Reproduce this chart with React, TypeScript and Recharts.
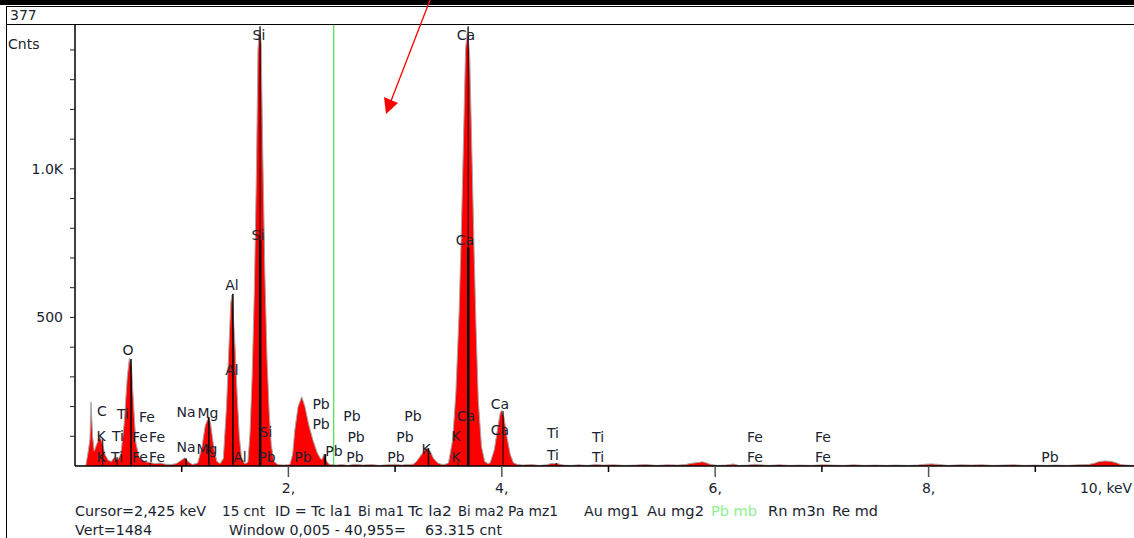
import React from "react";
import {
  ComposedChart,
  Area,
  XAxis,
  YAxis,
  ReferenceLine,
  ReferenceDot,
} from "recharts";

// spectrum: energy (keV) and counts
const energyKeV = [
  0.0, 0.1, 0.12, 0.14, 0.15, 0.165, 0.18, 0.2, 0.23, 0.25, 0.28, 0.31, 0.34, 0.37, 0.4, 0.43, 0.46, 0.49, 0.51, 0.53,
  0.55, 0.57, 0.6, 0.65, 0.7, 0.75, 0.8, 0.85, 0.9, 0.95, 1.0, 1.03, 1.06, 1.1, 1.15, 1.19, 1.22, 1.25, 1.27, 1.3,
  1.33, 1.36, 1.39, 1.42, 1.44, 1.46, 1.47, 1.48, 1.5, 1.52, 1.54, 1.56, 1.59, 1.62, 1.64, 1.66, 1.68, 1.7, 1.715, 1.73,
  1.745, 1.76, 1.78, 1.8, 1.82, 1.84, 1.865, 1.9, 1.95, 1.99, 2.015, 2.04, 2.06, 2.09, 2.125, 2.155, 2.19, 2.23, 2.27, 2.3,
  2.315, 2.33, 2.35, 2.38, 2.45, 2.5, 2.56, 2.62, 2.7, 2.78, 2.85, 2.92, 3.0, 3.06, 3.12, 3.17, 3.2, 3.24, 3.28, 3.3,
  3.33, 3.36, 3.4, 3.44, 3.47, 3.5, 3.54, 3.57, 3.6, 3.62, 3.64, 3.66, 3.68, 3.7, 3.72, 3.74, 3.76, 3.78, 3.81, 3.84,
  3.87, 3.89, 3.93, 3.96, 3.985, 4.0, 4.02, 4.05, 4.08, 4.11, 4.15, 4.2, 4.28, 4.35, 4.42, 4.47, 4.52, 4.58, 4.65, 4.72,
  4.8, 4.88, 4.95, 5.05, 5.15, 5.25, 5.35, 5.45, 5.55, 5.65, 5.72, 5.78, 5.84, 5.88, 5.92, 5.96, 6.02, 6.1, 6.17, 6.22,
  6.3, 6.37, 6.42, 6.5, 6.6, 6.7, 6.8, 6.9, 7.0, 7.1, 7.2, 7.3, 7.4, 7.5, 7.6, 7.7, 7.8, 7.9, 7.97, 8.03,
  8.1, 8.18, 8.3, 8.4, 8.5, 8.6, 8.7, 8.8, 8.9, 9.0, 9.1, 9.2, 9.3, 9.4, 9.5, 9.56, 9.6, 9.65, 9.7, 9.75,
  9.8, 9.85, 9.925,
];
const counts = [
  0, 0, 40, 90, 215, 100, 50, 70, 98, 85, 40, 20, 15, 30, 20, 40, 140, 300, 363, 330,
  200, 80, 30, 15, 12, 8, 10, 6, 5, 8, 20, 28, 15, 5, 10, 65, 135, 165, 145, 65,
  15, 8, 25, 200, 380, 550, 575, 530, 400, 240, 100, 30, 8, 12, 110, 300, 580, 980, 1400, 1477,
  1420, 1050, 640, 360, 180, 70, 15, 5, 3, 4, 6, 40, 121, 199, 233, 200, 140, 87, 45, 25,
  22, 38, 20, 6, 3, 5, 2, 6, 3, 5, 2, 4, 6, 3, 5, 6, 15, 35, 55, 60,
  50, 25, 10, 5, 6, 10, 90, 250, 520, 780, 1080, 1400, 1477, 1370, 1050, 730, 450, 220, 65, 15,
  8, 10, 55, 125, 178, 188, 165, 95, 38, 10, 5, 3, 5, 2, 4, 9, 8, 3, 2, 4,
  2, 5, 3, 4, 2, 3, 5, 2, 4, 3, 5, 9, 12, 14, 10, 5, 2, 3, 7, 2,
  3, 5, 4, 2, 4, 2, 3, 2, 4, 3, 2, 4, 2, 3, 2, 3, 2, 3, 6, 7,
  5, 2, 4, 3, 4, 2, 3, 4, 2, 3, 2, 3, 2, 4, 5, 10, 15, 17, 16, 12,
  5, 3, 2,
];

// KLM marker lines
const markerKeV = [1.735, 1.735, 3.685, 3.685, 1.48, 0.525, 1.254, 1.041, 2.345, 3.313, 3.59, 4.012, 4.51, 0.26, 0.395, 0.705];
const markerTop = [1480, 760, 1480, 735, 580, 360, 165, 25, 40, 60, 12, 185, 10, 90, 30, 10];
const markerWidth = [1, 2.5, 1, 2.5, 1.5, 1.5, 1.5, 1.5, 2, 1.5, 1, 1, 1, 1, 1, 1];

// element labels: text, keV, counts
const labelText = [
  "Si", "Ca", "Si", "Ca", "Al", "Al", "O",
  "C", "Ti", "Fe", "K", "Ti", "Fe", "Fe", "K", "Ti", "Fe", "Fe",
  "Na", "Mg", "Na", "Mg", "Al", "Si", "Pb",
  "Pb", "Pb", "Pb", "Pb", "Pb", "Pb", "Pb", "Pb", "Pb", "Pb",
  "K", "K", "K", "Ca", "Ca", "Ca",
  "Ti", "Ti", "Ti", "Ti", "Fe", "Fe", "Fe", "Fe", "Pb",
];
const labelKeV = [
  1.724, 3.664, 1.715, 3.655, 1.471, 1.471, 0.497,
  0.253, 0.45, 0.675, 0.244, 0.403, 0.609, 0.769, 0.244, 0.394, 0.609, 0.769,
  1.04, 1.246, 1.04, 1.237, 1.546, 1.79, 1.799,
  2.306, 2.306, 2.137, 2.427, 2.596, 2.634, 2.624, 3.168, 3.093, 3.008,
  3.29, 3.571, 3.571, 3.664, 3.983, 3.983,
  4.48, 4.48, 4.902, 4.902, 6.373, 6.373, 7.01, 7.01, 9.138,
];
const labelCounts = [
  1450, 1450, 777, 760, 609, 323, 390,
  185, 175, 165, 101, 101, 98, 98, 30, 30, 30, 30,
  182, 178, 64, 57, 30, 114, 30,
  209, 141, 30, 50, 168, 98, 30, 168, 98, 30,
  57, 101, 30, 168, 209, 121,
  111, 37, 98, 30, 98, 30, 98, 30, 30,
];

const xTicks = [1, 2, 3, 4, 5, 6, 7, 8, 9];
const xTickLabels: Record<number, string> = { 2: "2,", 4: "4,", 6: "6,", 8: "8,", 10: "10," };
const yTicks = [100, 200, 300, 400, 500, 600, 700, 800, 900, 1000, 1100, 1200, 1300, 1400];
const yTickLabels: Record<number, string> = { 500: "500", 1000: "1.0K" };

const FONT = "'DejaVu Sans', Verdana, sans-serif";
const INK = "#1a2330";

const data = energyKeV.map((e, i) => ({ e, c: counts[i] }));

function XTick(props: any) {
  const { x, y, payload } = props;
  const v = payload.value;
  const major = v % 2 === 0;
  return (
    <g>
      <line x1={x} x2={x} y1={y} y2={y + (major ? 11 : 6)} stroke={major ? "#555" : "#000"} strokeWidth={1.5} />
      {xTickLabels[v] && (
        <text x={x} y={y + 27} textAnchor="middle" fontSize={14} fontFamily={FONT} fill={INK}>
          {xTickLabels[v]}
        </text>
      )}
    </g>
  );
}

function YTick(props: any) {
  const { x, y, payload } = props;
  const v = payload.value;
  return (
    <g>
      <line x1={x - 5} x2={x} y1={y} y2={y} stroke="#222" strokeWidth={1} />
      {yTickLabels[v] && (
        <text x={x - 12} y={y + 5} textAnchor="end" fontSize={14} fontFamily={FONT} fill={INK}>
          {yTickLabels[v]}
        </text>
      )}
    </g>
  );
}

function ElementLabel(props: any) {
  const { cx, cy, text } = props;
  return (
    <text x={cx} y={cy + 5} textAnchor="middle" fontSize={14} fontFamily={FONT} fill={INK}>
      {text}
    </text>
  );
}

// status lines under the plot (start x and width as on screen)
const bottomRow1 = [
  { t: "Cursor=2,425 keV", x: 75, w: 131 },
  { t: "15 cnt", x: 222, w: 43 },
  { t: "ID = Tc la1", x: 275, w: 77 },
  { t: "Bi ma1", x: 358, w: 46 },
  { t: "Tc la2", x: 408, w: 44 },
  { t: "Bi ma2", x: 458, w: 46 },
  { t: "Pa mz1", x: 508, w: 50 },
  { t: "Au mg1", x: 584, w: 55 },
  { t: "Au mg2", x: 647, w: 57 },
  { t: "Pb mb", x: 711, w: 46, green: true },
  { t: "Rn m3n", x: 768, w: 57 },
  { t: "Re md", x: 832, w: 46 },
];
const bottomRow2 = [
  { t: "Vert=1484", x: 75, w: 77 },
  { t: "Window 0,005 - 40,955=", x: 229, w: 177 },
  { t: "63.315 cnt", x: 425, w: 77 },
];

export default function App() {
  return (
    <div style={{ position: "absolute", left: 0, top: 0, width: 1134, height: 538, background: "#fff", overflow: "hidden" }}>
      <div style={{ position: "absolute", left: 0, top: 0 }}>
        <ComposedChart width={1134} height={500} data={data} margin={{ top: 25, right: 0, bottom: 0, left: 0 }}>
          <XAxis
            dataKey="e"
            type="number"
            domain={[0, 9.925]}
            allowDataOverflow
            ticks={xTicks}
            tickSize={0}
            tickMargin={0}
            tick={<XTick />}
            axisLine={{ stroke: "#000", strokeWidth: 1.5 }}
            height={34}
            interval={0}
          />
          <YAxis
            type="number"
            domain={[0, 1484]}
            allowDataOverflow
            ticks={yTicks}
            tickSize={0}
            tickMargin={0}
            tick={<YTick />}
            axisLine={{ stroke: "#000", strokeWidth: 1.5 }}
            width={75}
            interval={0}
          />
          <Area
            dataKey="c"
            type="linear"
            fill="#ff0000"
            fillOpacity={1}
            stroke="#a8a8a8"
            strokeWidth={1}
            isAnimationActive={false}
            dot={false}
            activeDot={false}
          />
          {markerKeV.map((k, i) => (
            <ReferenceLine
              key={`m-${i}`}
              segment={[{ x: k, y: 0 }, { x: k, y: markerTop[i] }]}
              stroke="#000"
              strokeWidth={markerWidth[i]}
            />
          ))}
          <ReferenceLine x={2.425} stroke="#22dd22" strokeWidth={1} />
          {labelText.map((t, i) => (
            <ReferenceDot
              key={`l-${i}`}
              x={labelKeV[i]}
              y={labelCounts[i]}
              r={0}
              shape={(p: any) => <ElementLabel {...p} text={t} />}
            />
          ))}
        </ComposedChart>
      </div>
      <svg width={1134} height={538} style={{ position: "absolute", left: 0, top: 0, pointerEvents: "none" }}>
        <rect x={0} y={0} width={1134} height={5} fill="#000" />
        <line x1={6} x2={1134} y1={6.5} y2={6.5} stroke="#000" strokeWidth={1} />
        <line x1={6} x2={1134} y1={24.5} y2={24.5} stroke="#000" strokeWidth={1} />
        <line x1={6.5} x2={6.5} y1={6} y2={538} stroke="#000" strokeWidth={1} />
        <text x={10} y={20} fontSize={14} fontFamily={FONT} fill={INK}>377</text>
        <text x={8} y={49} fontSize={14} fontFamily={FONT} fill={INK}>Cnts</text>
        <text x={1080} y={493} fontSize={13.5} fontFamily={FONT} fill={INK} textLength={52} lengthAdjust="spacingAndGlyphs">
          10, keV
        </text>
        {/* annotation arrow */}
        <line x1={430} y1={0} x2={391} y2={101} stroke="#ff0000" strokeWidth={1.3} />
        <polygon points="384,97 398,103 386,114" fill="#ff0000" />
        {bottomRow1.map((b, i) => (
          <text
            key={`b1-${i}`}
            x={b.x}
            y={516}
            fontSize={14}
            fontFamily={FONT}
            fill={b.green ? "#90f090" : INK}
            textLength={b.w}
            lengthAdjust="spacingAndGlyphs"
          >
            {b.t}
          </text>
        ))}
        {bottomRow2.map((b, i) => (
          <text
            key={`b2-${i}`}
            x={b.x}
            y={535}
            fontSize={14}
            fontFamily={FONT}
            fill={INK}
            textLength={b.w}
            lengthAdjust="spacingAndGlyphs"
          >
            {b.t}
          </text>
        ))}
      </svg>
    </div>
  );
}
